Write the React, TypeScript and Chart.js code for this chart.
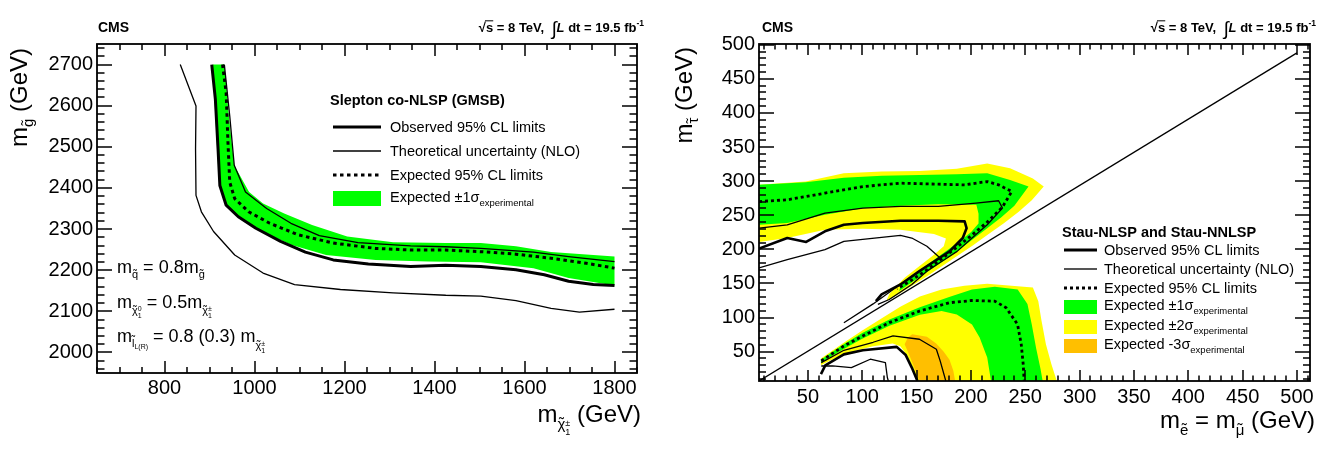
import React, { useEffect, useRef } from "react";
import { Chart, registerables } from "chart.js";

Chart.register(...registerables);

const FONT = '"Liberation Sans", Arial, Helvetica, sans-serif';
const GREEN = "#00ff00";
const YELLOW = "#ffff00";
const ORANGE = "#ffbf00";

// ================= Left panel: slepton co-NLSP (GMSB) =================
const gmsbXTicks = [800, 1000, 1200, 1400, 1600, 1800];
const gmsbYTicks = [2000, 2100, 2200, 2300, 2400, 2500, 2600, 2700];

const gmsbObserved: [number, number][] = [
  [905, 2700], [913, 2616], [919, 2495], [923, 2406], [937, 2358], [964, 2330],
  [1003, 2302], [1058, 2270], [1113, 2244], [1175, 2225], [1253, 2215], [1347, 2209],
  [1425, 2212], [1503, 2209], [1581, 2201], [1644, 2189], [1698, 2173], [1753, 2165], [1800, 2163],
];
const gmsbExpected: [number, number][] = [
  [929, 2700], [937, 2632], [941, 2511], [945, 2414], [956, 2374], [987, 2342],
  [1034, 2314], [1097, 2286], [1175, 2266], [1269, 2253], [1347, 2249], [1425, 2249],
  [1503, 2245], [1581, 2239], [1659, 2229], [1737, 2217], [1800, 2205],
];
const gmsbTheoryUp: [number, number][] = [
  [933, 2700], [945, 2575], [955, 2455], [980, 2390], [1027, 2350], [1081, 2314],
  [1144, 2284], [1230, 2267], [1347, 2259], [1425, 2257], [1503, 2253], [1620, 2244],
  [1698, 2233], [1800, 2221],
];
const gmsbTheoryDown: [number, number][] = [
  [835, 2700], [870, 2599], [869, 2495], [870, 2382], [882, 2342], [909, 2294],
  [956, 2237], [1019, 2193], [1089, 2165], [1191, 2153], [1308, 2145], [1425, 2139],
  [1503, 2137], [1581, 2126], [1659, 2107], [1722, 2098], [1800, 2105],
];
const gmsbBandUpper: [number, number][] = [
  [933, 2700], [943, 2575], [955, 2455], [988, 2390], [1019, 2362], [1066, 2338],
  [1128, 2310], [1206, 2282], [1308, 2268], [1425, 2266], [1503, 2266], [1581, 2258],
  [1659, 2244], [1800, 2233],
];
const gmsbBandLower: [number, number][] = [
  [907, 2700], [913, 2575], [921, 2414], [934, 2362], [964, 2330], [1011, 2298],
  [1081, 2262], [1159, 2237], [1269, 2225], [1386, 2221], [1503, 2219], [1620, 2205],
  [1698, 2181], [1800, 2163],
];

// ================= Right panel: stau NLSP / NNLSP =================
const stauXTicks = [50, 100, 150, 200, 250, 300, 350, 400, 450, 500];
const stauYTicks = [50, 100, 150, 200, 250, 300, 350, 400, 450, 500];

const stauDiagonal: [number, number][] = [[5, 7], [500, 488]];

const stauUpperObserved: [number, number][] = [
  [5, 201], [31, 216.6], [48.4, 210.8], [65.7, 226.4], [83.1, 236], [100.5, 238.6],
  [135.2, 242], [170, 242], [194.2, 241], [196, 231], [192.5, 216.6], [180.3, 197],
  [166.4, 182.5], [152.6, 168], [135.2, 148.5], [117.8, 134], [112.6, 124],
];
const stauUpperExpected: [number, number][] = [
  [5, 270], [31, 272.6], [65.7, 282.4], [100.5, 292], [135.2, 297], [170, 295.5],
  [194.2, 294.5], [215, 299.4], [225.5, 294.5], [237.6, 284.8], [229, 262], [215, 240],
  [201, 221], [187, 203], [173, 186], [159.5, 170], [145.6, 155], [132, 142],
];
const stauUpperTheoryUp: [number, number][] = [
  [5, 231.2], [31, 236], [65.7, 253], [100.5, 260.4], [135.2, 262.9], [170, 262.9],
  [204.7, 267.7], [225.5, 271.2], [229, 260.4], [215, 236], [201, 216.6], [187.3, 197],
  [173.4, 182.5], [159.5, 168], [145.6, 148.5], [124.8, 126.5], [114.4, 119.3],
];
const stauUpperTheoryDown: [number, number][] = [
  [5, 172.8], [31, 185], [65.7, 199.6], [83.1, 211.8], [117.8, 217.6], [135.2, 220.5],
  [145.6, 216.6], [159.5, 204.5], [171.7, 187.4], [150, 165], [130, 143], [110, 120], [83.1, 92.5],
];
const stauLowerObserved: [number, number][] = [
  [62, 17], [66, 30], [83.1, 46], [100.5, 52], [131.7, 57], [140, 45], [145.6, 26.7], [150.8, 7],
];
const stauLowerExpected: [number, number][] = [
  [62.3, 36.5], [83.1, 58.4], [100.5, 73], [124.8, 92.5], [152.6, 109.5], [180.3, 121.7],
  [201, 125], [222, 124], [232.4, 114.4], [242.9, 90], [246.3, 60.8], [248.1, 31.6], [249, 7],
];
const stauLowerTheoryUp: [number, number][] = [
  [62.3, 34], [83.1, 52], [110, 63.8], [128.3, 73], [152.6, 68.2], [168.2, 53.5], [171.7, 36.5], [176.9, 7],
];
const stauLowerTheoryDown: [number, number][] = [
  [62.3, 29], [72.7, 29.2], [90, 26.7], [107.4, 38.9], [121.3, 34], [123.1, 12.1], [124, 7],
];

const stauUpperYellow: [number, number][] = [
  [5, 294.5], [48, 299.4], [83, 311.6], [118, 314], [153, 315], [187, 318], [215, 326],
  [236, 319], [257, 304], [267, 292], [256, 272], [244, 255], [230, 238], [216, 222],
  [202, 206], [188, 191], [174, 176], [160, 161], [146, 147], [134, 135], [122, 124],
  [125, 135], [139, 158.5], [153, 176], [166, 192], [175, 204.6], [177, 216], [166, 222.5],
  [135, 228.8], [100.5, 230.3], [65.7, 228.8], [31, 216.6], [5, 210.8],
];
const stauUpperGreen: [number, number][] = [
  [5, 294.5], [48, 298.4], [83, 305], [118, 308], [153, 309], [187, 310], [215, 311.5],
  [236, 301.8], [253, 292], [240, 264], [228, 247], [215, 231], [202, 215], [188, 198],
  [174, 182], [160, 167], [146, 152], [134, 139], [136, 150], [150, 166], [163, 181],
  [176, 196], [189, 211], [200, 225], [207, 238], [207, 252], [205, 265.5], [170, 266],
  [135, 264], [100.5, 260.4], [65.7, 250.6], [31, 238.6], [5, 236],
];
const stauLowerYellow: [number, number][] = [
  [62, 40], [83, 63], [100, 81], [118, 99], [135, 116], [153, 131], [173, 141], [194, 146.5],
  [215, 149.4], [243, 146], [257, 144], [262, 124], [265, 95], [269, 61], [274, 32], [279, 7],
  [151, 7], [147, 25], [141, 45], [135, 58], [128, 62], [110, 58], [90, 50], [72, 38], [62, 30],
];
const stauLowerGreen: [number, number][] = [
  [62, 38], [83, 61], [100, 77.5], [125, 97], [153, 115], [180, 130], [201, 141], [222, 145],
  [243, 141], [252, 120], [256, 90], [260, 55], [264, 25], [266, 7], [218.5, 7], [215, 41.4],
  [208, 70.6], [201, 90], [187, 104.6], [173, 109.5], [153, 104], [125, 88], [100, 69], [83, 54], [62, 34],
];
const stauLowerOrange: [number, number][] = [
  [139, 61], [142, 70.6], [146, 75.4], [159.5, 72], [168, 62], [175, 50], [180.3, 38],
  [183.8, 21.9], [185.5, 7], [152.6, 7], [149, 21.9], [143, 46.2],
];

// ================= helpers =================
type Run = {
  t?: string; size: number; dy?: number; bold?: boolean; italic?: boolean;
  stack?: [string, string]; tilde?: number; overline?: boolean;
};

function runFont(r: Run) {
  return `${r.italic ? "italic " : ""}${r.bold ? "bold " : ""}${r.size}px ${FONT}`;
}
function runWidth(ctx: CanvasRenderingContext2D, r: Run) {
  ctx.font = runFont(r);
  if (r.stack) return Math.max(ctx.measureText(r.stack[0]).width, ctx.measureText(r.stack[1]).width);
  return ctx.measureText(r.t || "").width;
}
function drawRuns(ctx: CanvasRenderingContext2D, runs: Run[], x: number, y: number, align: "left" | "right" = "left") {
  const total = runs.reduce((s, r) => s + runWidth(ctx, r), 0);
  let cx = align === "right" ? x - total : x;
  ctx.textAlign = "left";
  ctx.textBaseline = "alphabetic";
  ctx.fillStyle = "#000";
  for (const r of runs) {
    const w = runWidth(ctx, r);
    ctx.font = runFont(r);
    const by = y + (r.dy || 0);
    if (r.stack) {
      ctx.fillText(r.stack[0], cx, by - r.size * 0.95);
      ctx.fillText(r.stack[1], cx, by);
    } else {
      ctx.fillText(r.t || "", cx, by);
      if (r.tilde !== undefined) {
        const tw = ctx.measureText("\u02dc").width;
        ctx.fillText("\u02dc", cx + (w - tw) / 2, by - r.size * (0.08 + r.tilde));
      }
      if (r.overline) {
        ctx.save();
        ctx.strokeStyle = "#000";
        ctx.lineWidth = 1;
        ctx.beginPath();
        ctx.moveTo(cx - 1, by - r.size * 0.86);
        ctx.lineTo(cx + w, by - r.size * 0.86);
        ctx.stroke();
        ctx.restore();
      }
    }
    cx += w;
  }
}
function lumiRuns(): Run[] {
  return [
    { t: "\u221a", size: 13, bold: true },
    { t: "s", size: 13, bold: true, overline: true },
    { t: " = 8 TeV,  ", size: 13, bold: true },
    { t: "\u222b", size: 19, dy: 3 },
    { t: "L", size: 13, bold: true, italic: true },
    { t: " dt = 19.5 fb", size: 13, bold: true },
    { t: "-1", size: 8.5, bold: true, dy: -6 },
  ];
}
function legendLine(ctx: CanvasRenderingContext2D, x0: number, x1: number, y: number, w: number, dash: number[], color = "#000") {
  ctx.save();
  ctx.strokeStyle = color;
  ctx.lineWidth = w;
  ctx.setLineDash(dash);
  ctx.beginPath();
  ctx.moveTo(x0, y);
  ctx.lineTo(x1, y);
  ctx.stroke();
  ctx.restore();
}
function legendBox(ctx: CanvasRenderingContext2D, x0: number, x1: number, cy: number, h: number, color: string) {
  ctx.fillStyle = color;
  ctx.fillRect(x0, cy - h / 2, x1 - x0, h);
}

const toXY = (pts: [number, number][]) => pts.map(([x, y]) => ({ x, y }));
function lineDs(pts: [number, number][], width: number, dash: number[] = [], color = "#000") {
  return { data: toXY(pts), borderColor: color, borderWidth: width, borderDash: dash, pointRadius: 0, fill: false, tension: 0, borderJoinStyle: "round" };
}
function areaDs(pts: [number, number][], color: string) {
  return { data: toXY(pts), borderWidth: 0, borderColor: color, backgroundColor: color, pointRadius: 0, fill: "shape", tension: 0 };
}

// ================= decorations =================
function drawLeftDecor(ctx: CanvasRenderingContext2D) {
  drawRuns(ctx, [{ t: "CMS", size: 14, bold: true }], 98, 32);
  drawRuns(ctx, lumiRuns(), 644, 32, "right");

  ctx.save();
  ctx.translate(27, 48);
  ctx.rotate(-Math.PI / 2);
  drawRuns(ctx, [{ t: "m", size: 24 }, { t: "g", size: 15, dy: 6, tilde: 0 }, { t: " (GeV)", size: 24 }], 0, 0, "right");
  ctx.restore();

  drawRuns(ctx, [
    { t: "m", size: 24 }, { t: "\u03c7", size: 15, dy: 7, tilde: 0 }, { stack: ["\u00b1", "1"], size: 9, dy: 13 },
    { t: " (GeV)", size: 24 },
  ], 641, 422, "right");

  // legend
  const fs = 14.5;
  drawRuns(ctx, [{ t: "Slepton co-NLSP (GMSB)", size: fs, bold: true }], 330, 105);
  legendLine(ctx, 333, 381, 127, 3, []);
  drawRuns(ctx, [{ t: "Observed 95% CL limits", size: fs }], 390, 132);
  legendLine(ctx, 333, 381, 151, 1.3, []);
  drawRuns(ctx, [{ t: "Theoretical uncertainty (NLO)", size: fs }], 390, 156);
  legendLine(ctx, 333, 381, 175, 3, [3.5, 3.5]);
  drawRuns(ctx, [{ t: "Expected 95% CL limits", size: fs }], 390, 180);
  legendBox(ctx, 333, 381, 198.5, 15, GREEN);
  drawRuns(ctx, [{ t: "Expected \u00b11\u03c3", size: fs }, { t: "experimental", size: 9.5, dy: 4 }], 390, 202);

  // mass relations
  drawRuns(ctx, [
    { t: "m", size: 18 }, { t: "q", size: 11, dy: 5, tilde: 0 }, { t: " = 0.8m", size: 18 }, { t: "g", size: 11, dy: 5, tilde: 0 },
  ], 117, 273);
  drawRuns(ctx, [
    { t: "m", size: 18 }, { t: "\u03c7", size: 11, dy: 6, tilde: 0 }, { stack: ["0", "1"], size: 7, dy: 10 },
    { t: " = 0.5m", size: 18 }, { t: "\u03c7", size: 11, dy: 6, tilde: 0 }, { stack: ["\u00b1", "1"], size: 7, dy: 10 },
  ], 117, 308);
  drawRuns(ctx, [
    { t: "m", size: 18 }, { t: "l", size: 11, dy: 5, tilde: 0.28 }, { t: "L(R)", size: 7, dy: 7 },
    { t: " = 0.8 (0.3) m", size: 18 }, { t: "\u03c7", size: 11, dy: 7, tilde: 0 }, { stack: ["\u00b1", "1"], size: 7, dy: 11 },
  ], 117, 342);
}

function drawRightDecor(ctx: CanvasRenderingContext2D) {
  drawRuns(ctx, [{ t: "CMS", size: 14, bold: true }], 99, 32);
  drawRuns(ctx, lumiRuns(), 653, 32, "right");

  ctx.save();
  ctx.translate(29, 47);
  ctx.rotate(-Math.PI / 2);
  drawRuns(ctx, [{ t: "m", size: 24 }, { t: "\u03c4", size: 15, dy: 6, tilde: 0 }, { t: " (GeV)", size: 24 }], 0, 0, "right");
  ctx.restore();

  drawRuns(ctx, [
    { t: "m", size: 24 }, { t: "e", size: 15, dy: 7, tilde: 0 }, { t: " = m", size: 24 },
    { t: "\u03bc", size: 15, dy: 7, tilde: 0 }, { t: " (GeV)", size: 24 },
  ], 652, 428, "right");

  const fs = 14.5;
  const x0 = 401, x1 = 434, tx = 441;
  drawRuns(ctx, [{ t: "Stau-NLSP and Stau-NNLSP", size: fs, bold: true }], 399, 237);
  legendLine(ctx, x0, x1, 250, 2.8, []);
  drawRuns(ctx, [{ t: "Observed 95% CL limits", size: fs }], tx, 255);
  legendLine(ctx, x0, x1, 269, 2, [], "#555");
  drawRuns(ctx, [{ t: "Theoretical uncertainty (NLO)", size: fs }], tx, 274);
  legendLine(ctx, x0, x1, 288, 2.8, [3, 3]);
  drawRuns(ctx, [{ t: "Expected 95% CL limits", size: fs }], tx, 293);
  legendBox(ctx, x0, x1, 307, 14, GREEN);
  drawRuns(ctx, [{ t: "Expected \u00b11\u03c3", size: fs }, { t: "experimental", size: 9.5, dy: 4 }], tx, 310);
  legendBox(ctx, x0, x1, 327, 14, YELLOW);
  drawRuns(ctx, [{ t: "Expected \u00b12\u03c3", size: fs }, { t: "experimental", size: 9.5, dy: 4 }], tx, 330);
  legendBox(ctx, x0, x1, 346, 14, ORANGE);
  drawRuns(ctx, [{ t: "Expected -3\u03c3", size: fs }, { t: "experimental", size: 9.5, dy: 4 }], tx, 349);
}

// ================= panels =================
type Axis = { min: number; max: number; ticks: number[]; minorStep: number; pad: number; majorLen: number; minorLen: number };
type Panel = {
  id: string;
  width: number;
  height: number;
  frame: { left: number; right: number; top: number; bottom: number };
  x: Axis;
  y: Axis;
  datasets: any[];
  decorate: (ctx: CanvasRenderingContext2D) => void;
};

const leftPanel: Panel = {
  id: "gmsb",
  width: 663,
  height: 451,
  frame: { left: 97, right: 637, top: 44, bottom: 373 },
  x: { min: 650, max: 1850, ticks: gmsbXTicks, minorStep: 50, pad: 3, majorLen: 12, minorLen: 6 },
  y: { min: 1950, max: 2750, ticks: gmsbYTicks, minorStep: 20, pad: 4, majorLen: 15, minorLen: 7.5 },
  datasets: [
    lineDs(gmsbObserved, 3),
    lineDs(gmsbExpected, 3, [3.5, 3.5]),
    lineDs(gmsbTheoryUp, 1.3),
    lineDs(gmsbTheoryDown, 1.3),
    areaDs([...gmsbBandUpper, ...gmsbBandLower.slice().reverse()], GREEN),
  ],
  decorate: drawLeftDecor,
};

const rightPanel: Panel = {
  id: "stau",
  width: 664,
  height: 451,
  frame: { left: 96, right: 647, top: 44, bottom: 381 },
  x: { min: 5, max: 512, ticks: stauXTicks, minorStep: 10, pad: 4, majorLen: 11, minorLen: 5.5 },
  y: { min: 7, max: 501, ticks: stauYTicks, minorStep: 10, pad: 4, majorLen: 15, minorLen: 7 },
  datasets: [
    lineDs(stauUpperObserved, 2.6),
    lineDs(stauLowerObserved, 2.6),
    lineDs(stauUpperExpected, 2.8, [3, 3]),
    lineDs(stauLowerExpected, 2.8, [3, 3]),
    lineDs(stauUpperTheoryUp, 1.3),
    lineDs(stauUpperTheoryDown, 1.3),
    lineDs(stauLowerTheoryUp, 1.3),
    lineDs(stauLowerTheoryDown, 1.3),
    lineDs(stauDiagonal, 1.3),
    areaDs(stauUpperGreen, GREEN),
    areaDs(stauLowerGreen, GREEN),
    areaDs(stauLowerOrange, ORANGE),
    areaDs(stauUpperYellow, YELLOW),
    areaDs(stauLowerYellow, YELLOW),
  ],
  decorate: drawRightDecor,
};

function axisMarks(chart: any, p: Panel) {
  const ctx: CanvasRenderingContext2D = chart.ctx;
  const xs = chart.scales.x;
  const ys = chart.scales.y;
  const a = chart.chartArea;
  const xPix = (v: number) => {
    const px = xs.getPixelForValue(v);
    return Number.isFinite(px) ? px : a.left + ((v - p.x.min) / (p.x.max - p.x.min)) * (a.right - a.left);
  };
  const yPix = (v: number) => {
    const py = ys.getPixelForValue(v);
    return Number.isFinite(py) ? py : a.bottom - ((v - p.y.min) / (p.y.max - p.y.min)) * (a.bottom - a.top);
  };
  ctx.save();
  ctx.setLineDash([]);
  ctx.globalAlpha = 1;
  ctx.strokeStyle = "#000";
  ctx.lineWidth = 1.5;
  const k0x = Math.ceil(p.x.min / p.x.minorStep);
  const k1x = Math.floor(p.x.max / p.x.minorStep);
  for (let k = k0x; k <= k1x; k++) {
    const v = k * p.x.minorStep;
    const len = p.x.ticks.indexOf(v) >= 0 ? p.x.majorLen : p.x.minorLen;
    const px = Math.round(xPix(v));
    ctx.beginPath();
    ctx.moveTo(px, a.bottom);
    ctx.lineTo(px, a.bottom - len);
    ctx.moveTo(px, a.top);
    ctx.lineTo(px, a.top + len);
    ctx.stroke();
  }
  const k0y = Math.ceil(p.y.min / p.y.minorStep);
  const k1y = Math.floor(p.y.max / p.y.minorStep);
  for (let k = k0y; k <= k1y; k++) {
    const v = k * p.y.minorStep;
    const len = p.y.ticks.indexOf(v) >= 0 ? p.y.majorLen : p.y.minorLen;
    const py = Math.round(yPix(v));
    ctx.beginPath();
    ctx.moveTo(a.left, py);
    ctx.lineTo(a.left + len, py);
    ctx.moveTo(a.right, py);
    ctx.lineTo(a.right - len, py);
    ctx.stroke();
  }
  ctx.lineWidth = 1.8;
  ctx.strokeRect(a.left, a.top, a.right - a.left, a.bottom - a.top);
  ctx.restore();
}

function buildChart(canvas: HTMLCanvasElement, p: Panel) {
  const framePlugin = {
    id: "frame_" + p.id,
    afterDraw(chart: any) {
      axisMarks(chart, p);
      const ctx: CanvasRenderingContext2D = chart.ctx;
      ctx.save();
      p.decorate(ctx);
      ctx.restore();
    },
  };

  return new Chart(canvas, {
    type: "line",
    data: { datasets: p.datasets },
    options: {
      animation: false,
      responsive: false,
      devicePixelRatio: 1,
      events: [],
      layout: { padding: { left: 0, top: p.frame.top, right: p.width - p.frame.right, bottom: 0 } },
      plugins: { legend: { display: false }, tooltip: { enabled: false }, title: { display: false } },
      elements: { point: { radius: 0 }, line: { tension: 0 } },
      scales: {
        x: {
          type: "linear",
          min: p.x.min,
          max: p.x.max,
          grid: { display: false, drawTicks: false },
          border: { display: false },
          ticks: { font: { family: FONT, size: 20 }, color: "#000", padding: p.x.pad, maxRotation: 0, minRotation: 0, autoSkip: false, callback: (v: any) => String(v) },
          afterBuildTicks: (s: any) => { s.ticks = p.x.ticks.map((v) => ({ value: v })); },
          afterFit: (s: any) => { s.height = p.height - p.frame.bottom; },
        },
        y: {
          type: "linear",
          min: p.y.min,
          max: p.y.max,
          grid: { display: false, drawTicks: false },
          border: { display: false },
          ticks: { font: { family: FONT, size: 20 }, color: "#000", padding: p.y.pad, autoSkip: false, callback: (v: any) => String(v) },
          afterBuildTicks: (s: any) => { s.ticks = p.y.ticks.map((v) => ({ value: v })); },
          afterFit: (s: any) => { s.width = p.frame.left; },
        },
      },
    } as any,
    plugins: [framePlugin],
  } as any);
}

export default function App() {
  const leftRef = useRef<HTMLCanvasElement>(null);
  const rightRef = useRef<HTMLCanvasElement>(null);
  useEffect(() => {
    const a = buildChart(leftRef.current as HTMLCanvasElement, leftPanel);
    const b = buildChart(rightRef.current as HTMLCanvasElement, rightPanel);
    return () => {
      a.destroy();
      b.destroy();
    };
  }, []);
  return (
    <div style={{ position: "absolute", left: 0, top: 0, width: 1327, height: 451, background: "#fff", overflow: "hidden" }}>
      <canvas ref={leftRef} width={663} height={451} style={{ position: "absolute", left: 0, top: 0, width: 663, height: 451 }} />
      <canvas ref={rightRef} width={664} height={451} style={{ position: "absolute", left: 663, top: 0, width: 664, height: 451 }} />
    </div>
  );
}
